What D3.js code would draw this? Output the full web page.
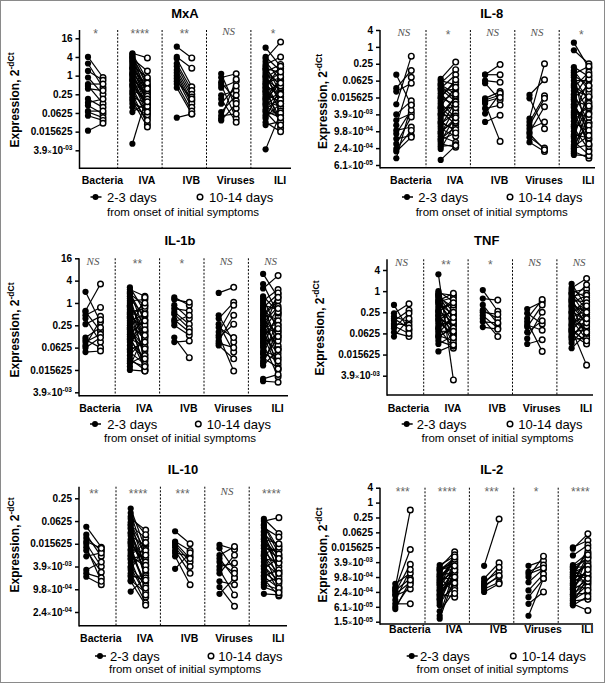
<!DOCTYPE html>
<html><head><meta charset="utf-8">
<script src="https://cdn.jsdelivr.net/npm/d3@7"></script>
<style>body{margin:0;background:#fff}svg{display:block}</style>
</head><body><svg id="c" width="605" height="683"></svg>
<script>
// ---------- shared labels ----------
const groups = ["Bacteria","IVA","IVB","Viruses","ILI"];
const legendLabels = ["2-3 days","10-14 days","from onset of initial symptoms"];
const yLabelMain = "Expression, 2";
const yLabelSup = "-dCt";

// values are log2(expression) = -dCt ; pairs are [2-3 days, 10-14 days]
// ---------- MxA ----------
const mxaTitle = "MxA";
const mxaTicks = [4,2,0,-2,-4,-6,-8];
const mxaTickLabels = ["16","4","1","0.25","0.0625","0.015625","3.9×10^-03"];
const mxaSig = ["*","****","**","NS","*"];
const mxaBacteria = [[2.0,-0.2],[1.3,-1.3],[0.5,-0.5],[-0.2,-2.0],[-0.9,-0.9],[-1.1,-3.0],[-1.4,-1.6],[-2.5,-3.4],[-2.9,-2.5],[-3.2,-4.1],[-3.8,-3.8],[-3.9,-4.5],[-4.3,-4.8],[-5.9,-5.1]];
const mxaIVA = [[2.4,1.9],[2.3,-0.5],[2.1,-1.2],[2.0,-2.0],[1.8,0.5],[1.6,-1.6],[1.3,-2.6],[1.1,-0.2],[0.9,-3.0],[0.7,-1.0],[0.5,-2.3],[0.3,-3.4],[0.2,-1.5],[0,-2.7],[-0.2,-3.8],[-0.4,-2.0],[-0.6,-4.1],[-0.9,-1.8],[-1.1,-3.2],[-1.3,-4.5],[-1.6,-2.4],[-2.0,-5.2],[-2.3,-3.0],[-2.7,-5.5],[-3.0,-3.6],[-3.4,-4.2],[-3.9,-2.9],[-7.3,-2.0],[1.9,-0.8],[1.5,-2.2],[0.8,-1.4],[0.1,-2.5],[-0.5,-3.3],[-1.0,-2.8],[-1.8,-3.9],[-2.5,-4.8]];
const mxaIVB = [[3.1,1.9],[2.0,0.8],[1.8,-1.2],[1.3,-1.6],[1.0,-2.0],[0.6,-2.3],[0.3,-2.7],[0,-3.0],[-0.3,-3.4],[-0.6,-2.5],[-0.9,-3.8],[-1.3,-4.1],[-4.5,-4.1]];
const mxaViruses = [[0.2,-3.5],[-0.2,0.2],[-0.7,-2.7],[-1.0,-4.6],[-1.3,-0.6],[-2.1,-1.6],[-2.5,-5.0],[-3.0,-1.1],[-3.9,-2.1],[-4.3,-4.1],[-4.8,-3.0],[-4.6,-0.4]];
const mxaILI = [[3.0,1.0],[1.8,3.6],[1.5,-0.5],[1.2,2.0],[1.0,-1.8],[0.8,0.3],[0.6,-2.5],[0.4,1.2],[0.2,-0.9],[0.0,-3.0],[-0.2,0.8],[-0.4,-1.5],[-0.6,-4.0],[-0.8,-0.2],[-1.0,-2.2],[-1.2,1.0],[-1.4,-3.5],[-1.6,-1.0],[-1.8,-4.6],[-2.0,-2.8],[-2.2,-0.6],[-2.4,-5.0],[-2.6,-1.9],[-2.8,-3.3],[-3.0,-0.1],[-3.3,-4.3],[-3.6,-2.4],[-3.9,-5.6],[-4.2,-3.8],[-4.6,-1.3],[-5.0,-6.0],[-5.3,-4.9],[-7.9,-4.0],[2.0,0.5],[0.7,-1.1],[-0.1,-2.6],[-0.9,0.4],[-1.7,-3.0],[-2.5,-0.8],[-3.1,-2.0],[-3.8,-4.5],[-4.4,-3.0],[-1.3,-5.3]];

// ---------- IL-8 ----------
const il8Title = "IL-8";
const il8Ticks = [2,0,-2,-4,-6,-8,-10,-12,-14];
const il8TickLabels = ["4","1","0.25","0.0625","0.015625","3.9×10^-03","9.8×10^-04","2.4×10^-04","6.1×10^-05"];
const il8Sig = ["NS","*","NS","NS","*"];
const il8Bacteria = [[-3.3,-6.9],[-4.9,-2.8],[-5.3,-4.3],[-6.8,-1.1],[-8.0,-6.4],[-8.7,-7.9],[-9.3,-3.6],[-9.9,-9.5],[-10.3,-7.5],[-10.9,-10.5],[-11.5,-8.3],[-12.1,-9.9],[-12.4,-10.7],[-13.2,-6.9]];
const il8IVA = [[-3.8,-1.8],[-4.0,-4.5],[-4.3,-2.7],[-4.6,-6.2],[-4.9,-3.3],[-5.2,-5.0],[-5.5,-7.5],[-5.8,-4.2],[-6.1,-6.8],[-6.4,-5.5],[-6.7,-8.4],[-7.0,-4.8],[-7.3,-7.1],[-7.6,-9.2],[-7.9,-6.0],[-8.2,-8.0],[-8.5,-5.8],[-8.8,-10.0],[-9.1,-7.8],[-9.4,-6.5],[-9.7,-10.6],[-10.0,-8.8],[-10.3,-7.2],[-10.6,-11.3],[-10.9,-9.5],[-11.2,-8.2],[-11.5,-11.9],[-11.8,-11.6],[-12.1,-9.0],[-13.4,-11.7],[-5.0,-6.5],[-6.0,-3.9],[-7.2,-8.8],[-8.0,-6.8],[-9.0,-9.8],[-10.2,-8.4],[-11.0,-10.2],[-4.5,-5.6]];
const il8IVB = [[-3.3,-2.1],[-3.3,-3.3],[-4.0,-4.2],[-4.3,-6.3],[-6.1,-5.3],[-6.3,-5.7],[-6.7,-11.2],[-7.3,-6.9],[-7.9,-5.5],[-8.9,-8.1],[-6.5,-6.0]];
const il8Viruses = [[-5.7,-3.9],[-6.1,-9.7],[-8.5,-2.0],[-8.9,-5.8],[-9.3,-6.1],[-9.7,-8.9],[-10.1,-7.1],[-10.7,-12.0],[-11.3,-12.4],[-10.3,-12.2]];
const il8ILI = [[0.5,-2.5],[-0.4,-2.0],[-2.4,-3.5],[-2.8,-5.2],[-3.2,-2.3],[-3.6,-6.5],[-4.0,-4.0],[-4.4,-7.8],[-4.8,-3.0],[-5.2,-5.8],[-5.6,-9.0],[-6.0,-4.6],[-6.4,-7.0],[-6.8,-10.2],[-7.2,-5.5],[-7.6,-8.4],[-8.0,-3.8],[-8.4,-11.0],[-8.8,-6.7],[-9.2,-9.5],[-9.6,-12.2],[-10.0,-7.4],[-10.4,-10.8],[-10.8,-5.0],[-11.2,-12.8],[-11.6,-9.0],[-12.0,-11.6],[-12.4,-13.2],[-12.8,-12.9],[-12.6,-8.0],[-6.2,-12.4],[-3.0,-11.8],[-3.4,-4.6],[-4.6,-6.0],[-5.8,-3.3],[-7.0,-9.3],[-8.2,-7.2],[-9.4,-5.9],[-10.6,-9.9],[-11.8,-10.5],[-12.2,-7.0],[-7.8,-11.5]];

// ---------- IL-1b ----------
const il1bTitle = "IL-1b";
const il1bTicks = [4,2,0,-2,-4,-6,-8];
const il1bTickLabels = ["16","4","1","0.25","0.0625","0.015625","3.9×10^-03"];
const il1bSig = ["NS","**","*","NS","NS"];
const il1bBacteria = [[1.0,-1.7],[-0.7,1.7],[-0.8,-2.5],[-1.1,-0.4],[-1.4,-3.5],[-1.9,-1.2],[-3.1,-2.2],[-3.3,-4.0],[-3.5,-2.8],[-4.0,-3.1],[-4.4,-4.3],[-3.8,-1.5]];
const il1bIVA = [[1.4,-0.8],[1.2,0.6],[1.0,-2.5],[0.8,-0.2],[0.6,-4.0],[0.4,-1.2],[0.2,0.3],[0.0,-3.0],[-0.2,-5.2],[-0.4,-1.8],[-0.6,-3.6],[-0.8,-0.5],[-1.0,-4.6],[-1.2,-2.2],[-1.4,-6.1],[-1.6,-1.0],[-1.8,-3.3],[-2.0,-5.6],[-2.2,-2.8],[-2.4,0.5],[-2.6,-4.3],[-2.8,-1.5],[-3.0,-5.9],[-3.2,-3.9],[-3.5,-2.0],[-3.8,-4.9],[-4.1,-0.3],[-4.4,-5.5],[-4.7,-3.1],[-5.0,-6.0],[-5.4,-4.7],[-5.7,-2.6],[-6.0,-6.1],[0.9,-1.6],[-0.3,-2.4],[-1.3,0.0],[-2.3,-4.1],[-3.3,-5.0],[-4.2,-3.5],[-5.2,-5.7],[-0.9,-2.9]];
const il1bIVB = [[0.5,-0.2],[0.3,0.06],[-0.2,-1.4],[-0.5,-0.7],[-0.8,-1.9],[-1.0,-2.3],[-1.7,-1.1],[-2.0,-2.9],[-3.1,-4.9],[-3.5,-3.4],[-1.5,-2.6]];
const il1bViruses = [[0.9,1.4],[-1.1,-3.5],[-1.4,0.06],[-1.9,-4.4],[-2.6,-0.2],[-2.9,-6.1],[-3.4,-1.1],[-3.8,-5.0],[-2.2,-3.1],[-3.1,-1.9],[-3.6,-4.0]];
const il1bILI = [[2.6,0.5],[1.7,-1.0],[1.3,2.45],[0.4,-2.5],[0.2,1.2],[0.0,-4.0],[-0.2,-0.6],[-0.4,0.8],[-0.6,-3.2],[-0.8,-5.0],[-1.0,-1.5],[-1.2,0.2],[-1.4,-2.8],[-1.6,-6.0],[-1.8,-0.3],[-2.0,-3.8],[-2.2,-1.9],[-2.4,-5.5],[-2.6,0.9],[-2.8,-2.2],[-3.0,-4.5],[-3.2,-1.2],[-3.4,-3.4],[-3.6,-6.6],[-3.8,-0.9],[-4.0,-2.6],[-4.3,-4.8],[-4.6,-1.6],[-4.9,-5.8],[-5.2,-3.0],[-5.6,-4.2],[-7.0,-7.1],[-6.8,-6.4],[0.6,-0.8],[-0.5,-2.0],[-1.5,-4.2],[-2.5,-0.5],[-3.5,-3.0],[-4.5,-5.2],[-5.4,-2.3],[-1.1,0.5],[-2.9,-5.9]];

// ---------- TNF ----------
const tnfTitle = "TNF";
const tnfTicks = [2,0,-2,-4,-6,-8];
const tnfTickLabels = ["4","1","0.25","0.0625","0.015625","3.9×10^-03"];
const tnfSig = ["NS","**","*","NS","NS"];
const tnfBacteria = [[-1.3,-3.7],[-2.1,-1.2],[-2.4,-2.9],[-2.8,-1.8],[-3.1,-3.2],[-3.5,-2.1],[-3.9,-4.3],[-4.3,-2.6],[-3.3,-4.0],[-2.6,-3.5]];
const tnfIVA = [[1.6,-8.4],[0.0,-1.0],[-0.2,-0.4],[-0.4,-2.6],[-0.6,-1.5],[-0.8,-3.6],[-1.0,-0.6],[-1.2,-2.2],[-1.4,-4.4],[-1.6,-1.2],[-1.8,-3.0],[-2.0,-0.8],[-2.2,-5.0],[-2.4,-2.0],[-2.6,-3.3],[-2.8,-1.7],[-3.0,-4.0],[-3.2,-2.8],[-3.4,-5.4],[-3.6,-1.3],[-3.8,-3.8],[-4.0,-2.4],[-4.2,-4.7],[-4.4,-3.2],[-4.7,-5.2],[-5.0,-4.2],[-5.7,-5.1],[-0.5,-3.9],[-0.3,-2.0],[-1.1,-2.9],[-1.9,-1.1],[-2.7,-4.4],[-3.5,-2.5],[-4.3,-3.5],[-0.9,-0.2],[-2.3,-3.8]];
const tnfIVB = [[0.1,-1.9],[-0.7,-0.85],[-1.3,-3.1],[-1.8,-2.6],[-2.3,-3.5],[-2.6,-4.3],[-2.9,-3.0],[-3.4,-3.6],[-2.0,-2.2]];
const tnfViruses = [[-1.7,-1.0],[-2.1,-3.1],[-2.6,-0.8],[-2.9,-5.7],[-3.4,-1.3],[-3.9,-2.8],[-4.5,-2.0],[-5.0,-4.6],[-3.2,-3.7]];
const tnfILI = [[0.7,-1.5],[0.3,1.2],[0.1,-0.6],[-0.1,0.2],[-0.3,-2.4],[-0.5,-0.2],[-0.7,-3.4],[-0.9,-1.0],[-1.1,-0.4],[-1.3,-2.0],[-1.5,-4.2],[-1.7,-1.3],[-1.9,-2.8],[-2.1,-0.8],[-2.3,-3.8],[-2.5,-1.8],[-2.7,-4.6],[-2.9,-2.5],[-3.1,-3.1],[-3.3,-1.1],[-3.5,-4.9],[-3.7,-2.2],[-3.9,-3.6],[-4.1,-5.0],[-4.3,-2.9],[-4.6,-4.4],[-4.9,-3.3],[-5.4,-4.0],[-3.6,-7.0],[-0.2,-1.7],[-0.8,0.6],[-1.4,-3.0],[-2.0,-1.4],[-2.6,-3.9],[-3.2,-2.0],[-3.8,-4.7],[-4.4,-2.6],[-1.0,-2.6]];

// ---------- IL-10 ----------
const il10Title = "IL-10";
const il10Ticks = [-2,-4,-6,-8,-10,-12];
const il10TickLabels = ["0.25","0.0625","0.015625","3.9×10^-03","9.8×10^-04","2.4×10^-04"];
const il10Sig = ["**","****","***","NS","****"];
const il10Bacteria = [[-4.5,-6.3],[-5.2,-7.1],[-5.5,-6.6],[-6.0,-8.0],[-6.6,-8.5],[-7.1,-6.8],[-8.3,-7.6],[-8.6,-9.0],[-8.9,-9.6],[-6.3,-9.3],[-5.8,-6.4]];
const il10IVA = [[-2.9,-6.5],[-3.3,-7.4],[-3.8,-4.8],[-4.1,-8.2],[-4.4,-5.5],[-4.7,-7.0],[-5.0,-9.0],[-5.3,-6.2],[-5.6,-8.6],[-5.9,-7.8],[-6.2,-10.0],[-6.5,-6.8],[-6.8,-9.4],[-7.1,-8.0],[-7.4,-10.7],[-7.7,-7.2],[-8.0,-9.7],[-8.3,-6.0],[-8.6,-11.2],[-8.9,-8.8],[-9.2,-10.3],[-9.3,-11.4],[-10.2,-9.0],[-6.0,-7.6],[-4.6,-9.2],[-7.0,-5.9],[-3.6,-5.2],[-4.3,-6.6],[-5.1,-7.9],[-5.8,-8.3],[-6.6,-9.9],[-7.3,-7.0],[-8.1,-10.5],[-8.8,-9.2]];
const il10IVB = [[-4.9,-6.0],[-5.8,-6.6],[-6.1,-7.6],[-6.3,-8.0],[-6.6,-8.6],[-6.8,-7.1],[-7.1,-9.6],[-8.2,-6.8],[-5.9,-7.3]];
const il10Viruses = [[-6.1,-6.5],[-6.4,-8.3],[-7.0,-6.25],[-7.3,-9.0],[-8.0,-7.7],[-8.3,-10.5],[-8.6,-7.0],[-9.3,-9.6],[-9.8,-11.5],[-10.4,-9.0],[-7.6,-8.6]];
const il10ILI = [[-3.8,-5.1],[-4.0,-3.7],[-4.3,-6.5],[-4.6,-5.4],[-4.9,-7.3],[-5.2,-6.2],[-5.5,-8.4],[-5.8,-7.0],[-6.1,-9.2],[-6.4,-6.6],[-6.7,-8.0],[-7.0,-9.8],[-7.3,-7.6],[-7.6,-8.8],[-7.9,-10.2],[-8.2,-7.2],[-8.5,-9.5],[-8.8,-8.3],[-9.1,-10.6],[-9.4,-9.0],[-9.6,-10.0],[-10.4,-10.5],[-6.9,-6.3],[-5.0,-8.6],[-4.4,-6.9],[-5.3,-7.7],[-6.2,-7.3],[-7.1,-8.6],[-8.0,-9.3],[-8.9,-9.9],[-9.8,-10.3],[-5.6,-6.0]];

// ---------- IL-2 ----------
const il2Title = "IL-2";
const il2Ticks = [2,0,-2,-4,-6,-8,-10,-12,-14,-16];
const il2TickLabels = ["4","1","0.25","0.0625","0.015625","3.9×10^-03","9.8×10^-04","2.4×10^-04","6.1×10^-05","1.5×10^-05"];
const il2Sig = ["***","****","***","*","****"];
const il2Bacteria = [[-10.9,-9.5],[-11.4,-1.0],[-11.6,-6.3],[-11.8,-10.2],[-12.0,-8.3],[-12.3,-10.7],[-12.5,-11.6],[-13.1,-9.0],[-13.6,-13.6],[-14.0,-11.0],[-14.3,-10.4]];
const il2IVA = [[-8.4,-7.2],[-8.7,-6.6],[-9.0,-8.5],[-9.3,-7.6],[-9.6,-9.5],[-9.9,-8.0],[-10.2,-10.2],[-10.5,-7.0],[-10.8,-9.0],[-11.1,-11.0],[-11.4,-8.3],[-11.7,-10.5],[-12.0,-9.8],[-12.3,-12.7],[-12.6,-8.8],[-12.9,-11.5],[-13.2,-9.3],[-13.5,-10.8],[-13.8,-7.8],[-14.6,-11.8],[-15.2,-9.0],[-15.6,-10.0],[-10.0,-12.2],[-9.1,-7.4],[-8.9,-8.1],[-9.7,-8.7],[-10.4,-9.4],[-11.0,-7.6],[-11.8,-9.1],[-12.4,-10.0],[-13.0,-8.5],[-10.7,-7.3]];
const il2IVB = [[-8.5,-2.2],[-10.2,-8.1],[-10.6,-9.3],[-10.9,-8.7],[-11.1,-10.0],[-11.6,-10.7],[-12.0,-10.9],[-11.3,-9.8]];
const il2Viruses = [[-8.5,-7.8],[-9.3,-8.4],[-10.0,-7.2],[-10.7,-8.9],[-11.8,-9.6],[-12.7,-10.2],[-13.6,-12.0],[-15.2,-10.2],[-9.6,-8.8]];
const il2ILI = [[-6.0,-5.1],[-6.2,-4.2],[-7.1,-5.7],[-8.4,-6.8],[-8.7,-8.6],[-9.0,-7.4],[-9.3,-9.9],[-9.6,-6.6],[-9.9,-8.2],[-10.2,-10.8],[-10.5,-7.9],[-10.8,-9.2],[-11.1,-11.6],[-11.4,-8.8],[-11.7,-10.4],[-12.0,-7.2],[-12.3,-12.2],[-12.6,-9.6],[-12.9,-11.0],[-13.2,-13.0],[-13.5,-10.0],[-13.8,-12.6],[-13.6,-14.5],[-10.0,-6.1],[-8.9,-11.3],[-8.6,-7.5],[-9.4,-8.5],[-10.1,-9.5],[-10.9,-7.0],[-11.6,-9.0],[-12.4,-10.6],[-13.1,-11.8],[-9.7,-10.2]];

// ---------- layout (positions only) ----------
const panels = [
 {title:mxaTitle, ticks:mxaTicks, tickLabels:mxaTickLabels, sig:mxaSig, data:[mxaBacteria,mxaIVA,mxaIVB,mxaViruses,mxaILI],
  t0:38.3, tN:150.3, yTop:30, yBot:168.3, ax:79.5, c0:95.5, aEnd:291, tx:185, ty:13, xly:180, ly1:197, ly2:212, lx:90.5, tx1:107, cx2:200, tx2:209, onX:183, ylx:19, ylcy:100, sy:31},
 {title:il8Title, ticks:il8Ticks, tickLabels:il8TickLabels, sig:il8Sig, data:[il8Bacteria,il8IVA,il8IVB,il8Viruses,il8ILI],
  t0:30, tN:165, yTop:30, yBot:167.7, ax:380, c0:403.8, aEnd:595, tx:491.7, ty:13.3, xly:180, ly1:197, ly2:212, lx:402, tx1:418.3, cx2:510, tx2:518.3, onX:491.7, ylx:327, ylcy:101.5, sy:32},
 {title:il1bTitle, ticks:il1bTicks, tickLabels:il1bTickLabels, sig:il1bSig, data:[il1bBacteria,il1bIVA,il1bIVB,il1bViruses,il1bILI],
  t0:258.3, tN:392.3, yTop:258.3, yBot:395.7, ax:79, c0:93, aEnd:288, tx:180, ty:240, xly:408.3, ly1:424, ly2:438.3, lx:90, tx1:107.3, cx2:198.3, tx2:206.7, onX:180, ylx:19, ylcy:330, sy:261},
 {title:tnfTitle, ticks:tnfTicks, tickLabels:tnfTickLabels, sig:tnfSig, data:[tnfBacteria,tnfIVA,tnfIVB,tnfViruses,tnfILI],
  t0:270, tN:375.7, yTop:259.3, yBot:395, ax:387, c0:401.5, aEnd:593, tx:486.7, ty:240, xly:408.3, ly1:424, ly2:438.3, lx:401.7, tx1:416.7, cx2:510, tx2:518.3, onX:497.5, ylx:324, ylcy:328, sy:262},
 {title:il10Title, ticks:il10Ticks, tickLabels:il10TickLabels, sig:il10Sig, data:[il10Bacteria,il10IVA,il10IVB,il10Viruses,il10ILI],
  t0:498.3, tN:612, yTop:486.7, yBot:625.7, ax:79, c0:93.8, aEnd:287, tx:183, ty:469.3, xly:637.7, ly1:656, ly2:669.3, lx:95, tx1:110, cx2:211, tx2:218.3, onX:185, ylx:19, ylcy:545, sy:491},
 {title:il2Title, ticks:il2Ticks, tickLabels:il2TickLabels, sig:il2Sig, data:[il2Bacteria,il2IVA,il2IVB,il2Viruses,il2ILI],
  t0:487.7, tN:621.7, yTop:487.7, yBot:624, ax:380, c0:402.8, aEnd:593, tx:491.7, ty:469.3, xly:629.5, ly1:656, ly2:669.3, lx:406.7, tx1:420, cx2:513.3, tx2:521.7, onX:492.5, ylx:327, ylcy:555, sy:489}
];

const FONT = "'Liberation Sans', Arial, sans-serif";
const SERIF = "'Liberation Serif', 'Times New Roman', serif";
const svg = d3.select("#c");
svg.append("rect").attr("x",0.5).attr("y",0.5).attr("width",604).attr("height",682)
  .attr("fill","#fff").attr("stroke","#8a8a8a").attr("stroke-width",1);

function drawPanel(P){
  const g = svg.append("g").attr("font-family", FONT);
  const y = d3.scaleLinear().domain([P.ticks[0], P.ticks[P.ticks.length-1]]).range([P.t0, P.tN]);
  const step = 44.4;
  const x = d3.scaleBand().domain(groups).range([P.c0 - step/2, P.c0 - step/2 + step*groups.length]).padding(0);
  const cx = gn => x(gn) + x.bandwidth()/2;

  g.append("text").attr("x",P.tx).attr("y",P.ty+4.7).attr("text-anchor","middle")
   .attr("font-size",13).attr("font-weight","bold").text(P.title);

  groups.slice(1).forEach(gn => {
    g.append("line").attr("x1",x(gn)).attr("x2",x(gn)).attr("y1",P.yTop).attr("y2",P.yBot)
     .attr("stroke","#000").attr("stroke-width",1).attr("stroke-dasharray","2,1.6");
  });

  const axis = d3.axisLeft(y).tickValues(P.ticks).tickSize(4).tickPadding(3).tickFormat("");
  const ag = g.append("g").attr("transform",`translate(${P.ax},0)`).call(axis);
  ag.select(".domain").remove();
  ag.attr("font-family",FONT).attr("font-size",10);
  ag.selectAll(".tick line").attr("stroke","#000").attr("stroke-width",1.5);
  ag.selectAll(".tick text").each(function(d,i){
    const t = d3.select(this).text(null).attr("font-weight","bold").attr("fill","#000");
    const lab = P.tickLabels[i];
    if(lab.includes("^")){
      const [mant, exp] = lab.split("^");
      const [a, b] = mant.split("×");
      t.append("tspan").text(a);
      t.append("tspan").attr("font-weight","normal").attr("font-size",8).text("×");
      t.append("tspan").text(b);
      t.append("tspan").attr("font-size",6.5).attr("dy","-0.6em").text(exp);
    } else t.text(lab);
  });
  g.append("line").attr("x1",P.ax).attr("x2",P.ax).attr("y1",P.yTop).attr("y2",P.yBot+0.75)
   .attr("stroke","#000").attr("stroke-width",1.5);
  g.append("line").attr("x1",P.ax).attr("x2",P.aEnd).attr("y1",P.yBot).attr("y2",P.yBot)
   .attr("stroke","#000").attr("stroke-width",1.5);

  const yl = g.append("text").attr("transform",`translate(${P.ylx},${P.ylcy}) rotate(-90)`)
   .attr("text-anchor","middle").attr("font-size",12).attr("font-weight","bold");
  yl.append("tspan").text(yLabelMain);
  yl.append("tspan").attr("font-size",8.5).attr("dy",-5).text(yLabelSup);

  const pts = [];
  groups.forEach((gn,gi) => P.data[gi].forEach(p => pts.push({x0:cx(gn)-7.5, x1:cx(gn)+7.5, v0:p[0], v1:p[1]})));
  g.append("g").selectAll("line").data(pts).join("line")
   .attr("x1",d=>d.x0).attr("x2",d=>d.x1).attr("y1",d=>y(d.v0)).attr("y2",d=>y(d.v1))
   .attr("stroke","#000").attr("stroke-width",1.2);
  g.append("g").selectAll("circle").data(pts).join("circle")
   .attr("cx",d=>d.x0).attr("cy",d=>y(d.v0)).attr("r",3.1).attr("fill","#000");
  g.append("g").selectAll("circle").data(pts).join("circle")
   .attr("cx",d=>d.x1).attr("cy",d=>y(d.v1)).attr("r",2.8).attr("fill","#fff")
   .attr("stroke","#000").attr("stroke-width",1.45);

  groups.forEach((gn,gi) => {
    const s = P.sig[gi];
    if(s === "NS"){
      g.append("text").attr("x",cx(gn)).attr("y",P.sy+4).attr("text-anchor","middle")
       .attr("font-family",SERIF).attr("font-style","italic").attr("font-size",11).attr("fill","#555").text(s);
    } else {
      g.append("text").attr("x",cx(gn)).attr("y",P.sy+7).attr("text-anchor","middle")
       .attr("font-size",12).attr("fill","#666").text(s);
    }
  });

  groups.forEach(gn => {
    g.append("text").attr("x",cx(gn)+7).attr("y",P.xly+3.8).attr("text-anchor","middle")
     .attr("font-size",10.5).attr("font-weight","bold").text(gn);
  });

  g.append("line").attr("x1",P.lx).attr("x2",P.lx+11).attr("y1",P.ly1).attr("y2",P.ly1)
   .attr("stroke","#000").attr("stroke-width",1.5);
  g.append("circle").attr("cx",P.lx+5).attr("cy",P.ly1).attr("r",3).attr("fill","#000");
  g.append("text").attr("x",P.tx1).attr("y",P.ly1+4.5).attr("font-size",13).text(legendLabels[0]);
  g.append("circle").attr("cx",P.cx2).attr("cy",P.ly1).attr("r",2.8).attr("fill","#fff")
   .attr("stroke","#000").attr("stroke-width",1.45);
  g.append("text").attr("x",P.tx2).attr("y",P.ly1+4.5).attr("font-size",13).text(legendLabels[1]);
  g.append("text").attr("x",P.onX).attr("y",P.ly2+4).attr("text-anchor","middle")
   .attr("font-size",11.5).text(legendLabels[2]);
}

panels.forEach(drawPanel);
</script>
</body></html>
